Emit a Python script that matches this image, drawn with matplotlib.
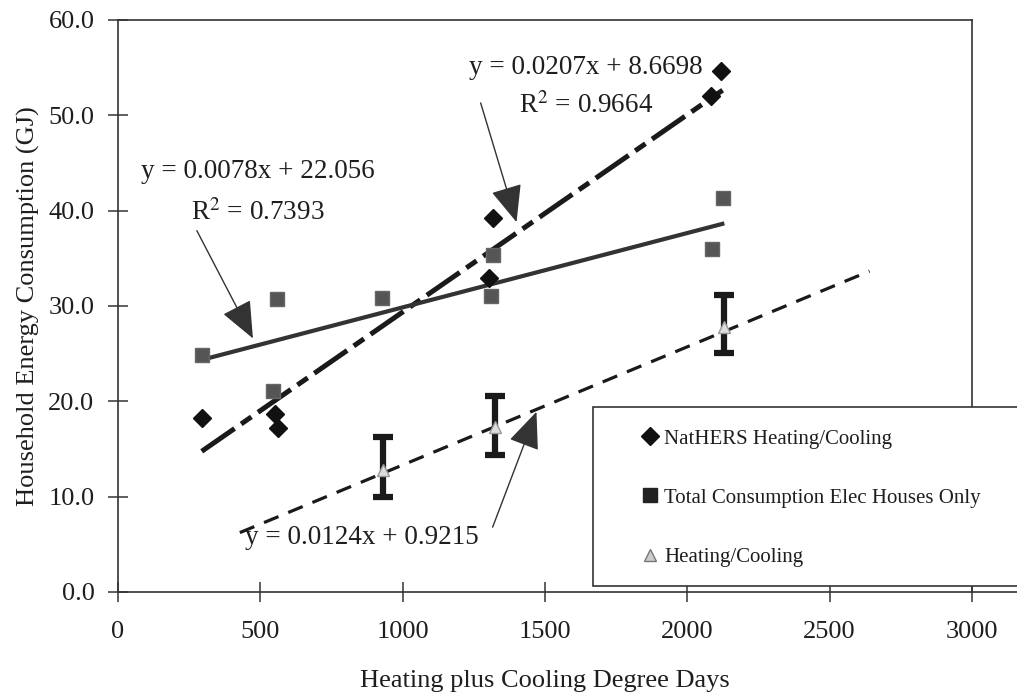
import matplotlib
matplotlib.use("Agg")
import matplotlib.pyplot as plt
import numpy as np
from matplotlib.lines import Line2D
from matplotlib.patches import Rectangle

plt.rcParams['font.family'] = ['Liberation Serif', 'DejaVu Serif']
plt.rcParams['mathtext.fontset'] = 'stix'

# ---------------- data ----------------
nathers_x = [294, 551, 562, 1317, 1305, 2083, 2118]
nathers_y = [18.2, 18.7, 17.2, 39.2, 32.9, 52.0, 54.6]

total_x = [294, 545, 557, 929, 1317, 1311, 2088, 2124]
total_y = [24.9, 21.1, 30.7, 30.8, 35.4, 31.1, 36.0, 41.3]

hc_x = [930, 1326, 2130]
hc_y = [12.8, 17.3, 27.8]
hc_low = [10.0, 14.4, 25.1]
hc_high = [16.3, 20.6, 31.2]

# trend lines: slope, intercept, x-range
trend_names = ["NatHERS", "Total", "HC"]
trend_slope = [0.0207, 0.0078, 0.0124]
trend_intercept = [8.6698, 22.056, 0.9215]
trend_x0 = [294, 294, 428]
trend_x1 = [2124, 2130, 2640]

legend_labels = ["NatHERS Heating/Cooling", "Total Consumption Elec Houses Only", "Heating/Cooling"]
x_ticks = [0, 500, 1000, 1500, 2000, 2500, 3000]
y_ticks = [0, 10, 20, 30, 40, 50, 60]

# ---------------- figure ----------------
W, H = 1017, 692
fig = plt.figure(figsize=(W / 100, H / 100), dpi=100)
ax = fig.add_axes([118 / W, 1 - 592 / H, (972 - 118) / W, (592 - 20) / H])
ax.set_xlim(0, 3000)
ax.set_ylim(0, 60)

txt = '#1e1e1e'
for s in ax.spines.values():
    s.set_color('#333333')
    s.set_linewidth(1.2)

ax.set_xticks(x_ticks)
ax.set_xticklabels([str(v) for v in x_ticks])
ax.set_yticks(y_ticks)
ax.set_yticklabels([f"{v:.1f}" for v in y_ticks])
ax.tick_params(axis='both', direction='inout', length=14, width=1.2, color='#444444',
               labelsize=19, labelcolor=txt)
ax.tick_params(axis='x', pad=14)
ax.tick_params(axis='y', pad=10)

ax.set_xlabel("Heating plus Cooling Degree Days", fontsize=19, color=txt, labelpad=19)
ax.set_ylabel("Household Energy Consumption (GJ)", fontsize=19, color=txt, labelpad=6)

# trend lines
styles = {
    "NatHERS": dict(color='#1a1a1a', lw=3.6, dashes=(8, 1.6, 2.5, 1.6)),
    "Total": dict(color='#333333', lw=3.0, linestyle='-'),
    "HC": dict(color='#1a1a1a', lw=2.3, dashes=(4.9, 3.3)),
}
for name, m, b, x0, x1 in zip(trend_names, trend_slope, trend_intercept, trend_x0, trend_x1):
    xs = np.array([x0, x1])
    ax.plot(xs, m * xs + b, zorder=3, solid_capstyle='butt', dash_capstyle='butt', **styles[name])

# points
ax.plot(total_x, total_y, linestyle='none', marker='s', markersize=10,
        markerfacecolor='#555555', markeredgecolor='#666666', zorder=4)
ax.plot(nathers_x, nathers_y, linestyle='none', marker='D', markersize=9,
        markerfacecolor='#111111', markeredgecolor='#111111', zorder=5)

yerr = [np.array(hc_y) - np.array(hc_low), np.array(hc_high) - np.array(hc_y)]
ax.errorbar(hc_x, hc_y, yerr=yerr, fmt='none', ecolor='#1a1a1a', elinewidth=4.5,
            capsize=7, capthick=4.5, zorder=4)
ax.plot(hc_x, hc_y, linestyle='none', marker='^', markersize=9,
        markerfacecolor='#dddddd', markeredgecolor='#999999', zorder=6)

# annotations
arrow = dict(arrowstyle='-|>,head_length=1.3,head_width=0.55', mutation_scale=18,
             color='#333333', lw=1.0, shrinkA=0, shrinkB=0)
ax.annotate("", xy=(474, 26.6), xytext=(277, 37.9), arrowprops=arrow, zorder=7)
ax.annotate("", xy=(1400, 38.8), xytext=(1274, 51.3), arrowprops=arrow, zorder=7)
ax.annotate("", xy=(1470, 18.9), xytext=(1316, 6.8), arrowprops=arrow, zorder=7)

ax.text(491, 41.9, "y = 0.0078x + 22.056\nR$^2$ = 0.7393", ha='center', va='center',
        fontsize=19.5, color=txt, linespacing=1.7, zorder=8)
ax.text(1645, 53.0, "y = 0.0207x + 8.6698\nR$^2$ = 0.9664", ha='center', va='center',
        fontsize=19.5, color=txt, linespacing=1.6, zorder=8)
ax.text(856, 5.7, "y = 0.0124x + 0.9215", ha='center', va='center',
        fontsize=19.5, color=txt, zorder=8)

# extended x-axis line beyond right spine
fig.add_artist(Line2D([972 / W, 1.0], [1 - 592 / H, 1 - 592 / H], color='#333333', lw=1.2))

# legend box (extends beyond figure edge)
rect = Rectangle((593 / W, 1 - 586 / H), (1040 - 593) / W, (586 - 407) / H,
                 transform=fig.transFigure, facecolor='white', edgecolor='#333333',
                 lw=1.2, zorder=4, clip_on=False)
fig.add_artist(rect)

handles = [
    Line2D([], [], linestyle='none', marker='D', markersize=9, markerfacecolor='#111111',
           markeredgecolor='#111111'),
    Line2D([], [], linestyle='none', marker='s', markersize=10, markerfacecolor='#222222',
           markeredgecolor='#222222'),
    Line2D([], [], linestyle='none', marker='^', markersize=9, markerfacecolor='#cccccc',
           markeredgecolor='#777777'),
]
leg = fig.legend(handles, legend_labels, loc='upper left',
                 bbox_to_anchor=(641 / W, 1 - 429 / H), frameon=False, fontsize=15,
                 handlelength=0.85, handletextpad=0.25, labelspacing=1.9,
                 borderpad=0, borderaxespad=0, labelcolor=txt)
leg.set_zorder(6)

fig.savefig("out.png", dpi=100)
